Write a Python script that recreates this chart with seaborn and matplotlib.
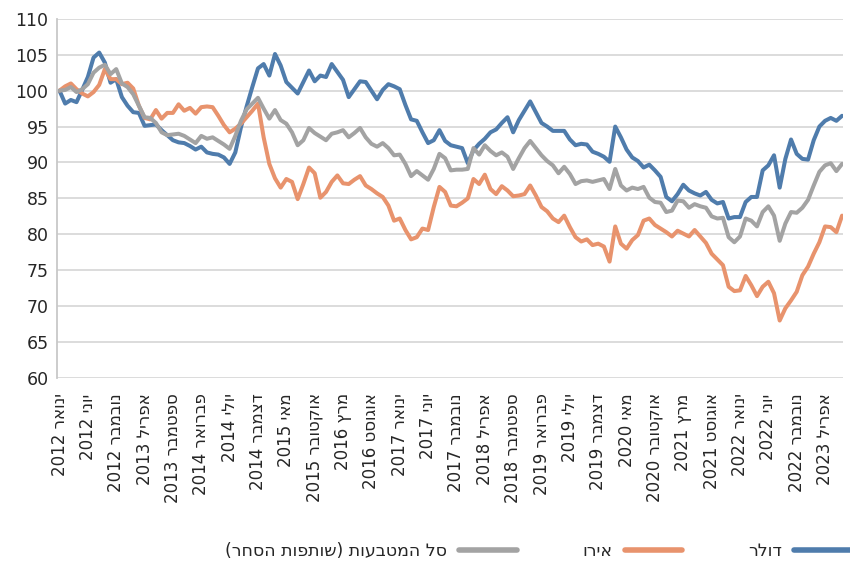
import numpy as np
import pandas as pd
import matplotlib
matplotlib.use("Agg")
import matplotlib.pyplot as plt
import seaborn as sns
from matplotlib.lines import Line2D

sns.set_style("white")
plt.rcParams['font.family'] = ['DejaVu Sans']

# monthly index values, Jan 2012 = 100
dollar = [100.0, 98.2, 98.7, 98.4, 100.1, 101.9, 104.6, 105.3, 103.9, 101.1,
          101.6, 99.1, 97.9, 97.0, 96.9, 95.1, 95.2, 95.3, 94.5, 93.8,
          93.1, 92.8, 92.7, 92.3, 91.8, 92.2, 91.4, 91.2, 91.1, 90.7,
          89.8, 91.4, 94.9, 97.8, 100.5, 103.1, 103.7, 102.1, 105.1, 103.5,
          101.2, 100.4, 99.6, 101.2, 102.8, 101.3, 102.1, 101.9, 103.7, 102.6,
          101.5, 99.1, 100.2, 101.3, 101.2, 100.0, 98.8, 100.1, 100.9, 100.6,
          100.2, 98.0, 96.0, 95.8, 94.2, 92.7, 93.1, 94.5, 93.0, 92.4,
          92.2, 92.0, 89.9, 91.7, 92.6, 93.3, 94.2, 94.6, 95.5, 96.3,
          94.2, 95.9, 97.2, 98.5, 97.0, 95.5, 95.0, 94.4, 94.4, 94.4,
          93.2, 92.4, 92.6, 92.5, 91.5, 91.2, 90.8, 90.1, 95.0, 93.5,
          91.8, 90.7, 90.2, 89.3, 89.7, 88.9, 88.0, 85.2, 84.6, 85.6,
          86.9, 86.1, 85.7, 85.4, 85.9, 84.8, 84.3, 84.5, 82.2, 82.4,
          82.4, 84.5, 85.2, 85.2, 88.9, 89.6, 91.0, 86.5, 90.5, 93.2,
          91.2, 90.5, 90.4, 93.1, 95.0, 95.8, 96.2, 95.8, 96.5]

euro = [100.0, 100.6, 101.0, 100.2, 99.6, 99.2, 99.8, 100.8, 103.0, 101.6,
        101.6, 100.9, 101.1, 100.3, 97.9, 96.2, 96.0, 97.3, 96.1, 96.9,
        96.9, 98.1, 97.2, 97.6, 96.8, 97.7, 97.8, 97.7, 96.5, 95.2,
        94.2, 94.7, 95.4, 96.3, 97.2, 98.2, 93.5, 89.8, 87.8, 86.5,
        87.7, 87.3, 84.9, 87.0, 89.3, 88.5, 85.1, 85.9, 87.3, 88.2,
        87.1, 87.0, 87.6, 88.1, 86.8, 86.3, 85.7, 85.2, 84.0, 81.9,
        82.2, 80.6, 79.3, 79.6, 80.8, 80.6, 83.8, 86.6, 85.9, 84.0,
        83.9, 84.4, 85.0, 87.7, 87.0, 88.3, 86.3, 85.6, 86.7, 86.1,
        85.3, 85.4, 85.6, 86.8, 85.4, 83.8, 83.2, 82.2, 81.7, 82.6,
        81.0, 79.6, 79.0, 79.3, 78.5, 78.7, 78.3, 76.2, 81.1, 78.7,
        78.0, 79.2, 79.9, 81.9, 82.2, 81.3, 80.8, 80.3, 79.7, 80.5,
        80.1, 79.7, 80.6, 79.7, 78.8, 77.3, 76.5, 75.7, 72.7, 72.1,
        72.2, 74.2, 72.9, 71.4, 72.7, 73.4, 71.8, 68.0, 69.7, 70.8,
        72.0, 74.3, 75.5, 77.3, 78.9, 81.1, 81.0, 80.3, 82.6]

basket = [100.0, 100.1, 100.5, 99.8, 100.2, 100.9, 102.5, 103.2, 103.6, 102.3,
          103.0, 101.0, 100.5, 99.5, 97.9, 96.3, 96.2, 95.5, 94.2, 93.8,
          93.9, 94.0, 93.7, 93.2, 92.7, 93.7, 93.3, 93.5, 93.0, 92.5,
          91.9, 93.7, 95.8, 97.4, 98.2, 99.0, 97.5, 96.1, 97.3, 95.9,
          95.4, 94.2, 92.4, 93.1, 94.8, 94.1, 93.6, 93.1, 94.0, 94.2,
          94.5, 93.5, 94.1, 94.8, 93.5, 92.6, 92.2, 92.7, 92.0, 91.0,
          91.1, 89.8, 88.1, 88.8, 88.2, 87.6, 89.1, 91.2, 90.6, 88.9,
          89.0, 89.0, 89.1, 92.0, 91.1, 92.4, 91.6, 91.0, 91.4, 90.8,
          89.1, 90.6, 92.0, 93.0, 92.0, 91.0, 90.2, 89.6, 88.5, 89.4,
          88.4, 87.0, 87.4, 87.5, 87.3, 87.5, 87.7, 86.3, 89.1, 86.8,
          86.1, 86.5, 86.3, 86.6, 85.1, 84.5, 84.4, 83.1, 83.3, 84.7,
          84.6, 83.7, 84.2, 83.9, 83.7, 82.5, 82.2, 82.3, 79.6, 78.9,
          79.7, 82.2, 81.9, 81.1, 83.1, 83.9, 82.6, 79.1, 81.5, 83.1,
          83.0, 83.7, 84.8, 86.8, 88.7, 89.6, 89.9, 88.8, 89.8]

month_names = ['ינואר', 'פברואר', 'מרץ', 'אפריל', 'מאי', 'יוני',
               'יולי', 'אוגוסט', 'ספטמבר', 'אוקטובר', 'נובמבר', 'דצמבר']
series_names = ['דולר', 'אירו', 'סל המטבעות (שותפות הסחר)']
colors = ['#4F7CAC', '#E8936D', '#A3A3A3']
start_year = 2012


def visual(s):
    # matplotlib has no bidi support: feed RTL text in visual order
    return s[::-1].translate(str.maketrans('()', ')('))


n = len(dollar)
df = pd.DataFrame({
    'month': np.tile(np.arange(n), 3),
    'value': dollar + euro + basket,
    'series': np.repeat(series_names, n),
})

fig = plt.figure(figsize=(8.5, 5.63), dpi=100)
ax = fig.add_axes([0.067, 0.3286, 0.925, 0.638])

sns.lineplot(data=df, x='month', y='value', hue='series', hue_order=series_names,
             palette=colors, linewidth=2.9, legend=False, ax=ax)
for ln in ax.lines:
    ln.set_solid_joinstyle('round')

ax.set_ylim(60, 110)
ax.set_yticks(range(60, 111, 5))
ax.set_xlim(-0.45, n - 1 + 0.2)

ticks = list(range(0, n, 5))
ax.set_xticks(ticks)
ax.set_xticklabels([f"{start_year + k // 12} {visual(month_names[k % 12])}" for k in ticks],
                   rotation=90, va='top', ha='center')

ax.grid(axis='y', color='#D9D9D9', linewidth=1.3)
ax.set_axisbelow(True)
for side in ['top', 'right', 'bottom']:
    ax.spines[side].set_visible(False)
ax.spines['left'].set_color('#C8C8C8')
ax.spines['left'].set_linewidth(1.3)
ax.tick_params(axis='y', length=0, pad=6, labelsize=12.5)
ax.tick_params(axis='x', length=0, pad=11, labelsize=12)
ax.set_xlabel('')
ax.set_ylabel('')

order = [2, 1, 0]
handles = [Line2D([0], [0], color=colors[k], lw=4, solid_capstyle='round') for k in order]
labels = [visual(series_names[k]) for k in order]
fig.legend(handles, labels, loc='center right', bbox_to_anchor=(1.02, 0.022), ncol=3,
           markerfirst=False, frameon=False, fontsize=12.5, handlelength=3.3,
           handletextpad=0.7, columnspacing=3.8)

fig.savefig('out.png', dpi=100)
